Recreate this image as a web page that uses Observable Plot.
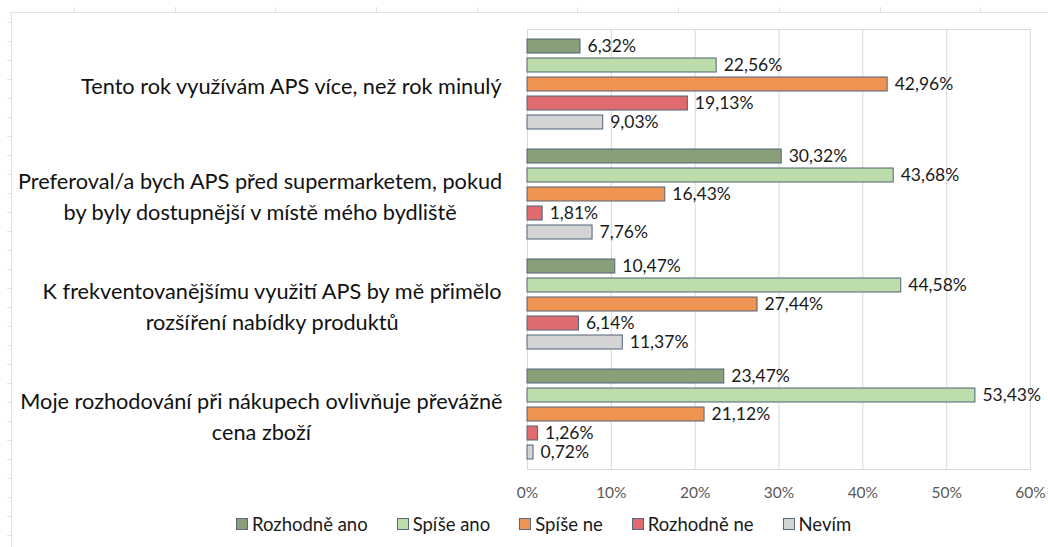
<!DOCTYPE html>
<html>
<head>
<meta charset="utf-8">
<script src="https://cdn.jsdelivr.net/npm/d3@7"></script>
<script src="https://cdn.jsdelivr.net/npm/@observablehq/plot@0.6"></script>
<style>
  html, body { margin: 0; padding: 0; background: #fff; }
  body { width: 1048px; height: 547px; position: relative; overflow: hidden; font-family: Lato, "Open Sans", sans-serif; }
  #rulerTop { position: absolute; left: 10px; top: 7px; width: 1038px; height: 5px; border-bottom: 1px solid #e2e2e2;
    background: repeating-linear-gradient(to right, transparent 0, transparent 64px, #e2e2e2 64px, #e2e2e2 65px, transparent 65px, transparent 100.7px); }
  #rulerLeft { position: absolute; left: 7px; top: 12px; width: 4px; height: 535px; border-right: 1px solid #e2e2e2;
    background: repeating-linear-gradient(to bottom, transparent 0, transparent 10px, #e2e2e2 10px, #e2e2e2 11px, transparent 11px, transparent 19px); }
  #chart { position: absolute; left: 0; top: 0; }
  #legend { position: absolute; left: 236px; top: 513px; display: flex; gap: 29px; font-size: 18.5px; color: #1a1a1a; line-height: 22px; }
  .item { display: flex; align-items: center; }
  .sw { width: 10px; height: 10px; border: 1px solid #5a6a7e; margin-right: 4px; }
</style>
</head>
<body>
<div id="rulerTop"></div>
<div id="rulerLeft"></div>
<div id="chart"></div>
<div id="legend"></div>
<script>
// ---- data ----
const questions = [
  "Tento rok využívám APS více, než rok minulý",
  "Preferoval/a bych APS před supermarketem, pokud\nby byly dostupnější v místě mého bydliště",
  "K frekventovanějšímu využití APS by mě přimělo\nrozšíření nabídky produktů",
  "Moje rozhodování při nákupech ovlivňuje převážně\ncena zboží"
];
const series = ["Rozhodně ano", "Spíše ano", "Spíše ne", "Rozhodně ne", "Nevím"];
const rozhodneAno = [6.32, 30.32, 10.47, 23.47];
const spiseAno = [22.56, 43.68, 44.58, 53.43];
const spiseNe = [42.96, 16.43, 27.44, 21.12];
const rozhodneNe = [19.13, 1.81, 6.14, 1.26];
const nevim = [9.03, 7.76, 11.37, 0.72];
const xTicks = [0, 10, 20, 30, 40, 50, 60];
const colors = ["#889f7a", "#bcdca9", "#ef9353", "#df6b6f", "#d4d4d4"];

const seriesValues = [rozhodneAno, spiseAno, spiseNe, rozhodneNe, nevim];
const data = [];
questions.forEach((q, qi) => {
  series.forEach((s, si) => data.push({question: q, series: s, value: seriesValues[si][qi]}));
});

// ---- category label measurement (center lines within block, block right-aligned) ----
const labelFont = 21.7;
const ctx = document.createElement("canvas").getContext("2d");
ctx.font = `${labelFont}px Lato`;
const labelGap = 25;
const labelMarks = questions.map(q => {
  const w = Math.max(...q.split("\n").map(l => ctx.measureText(l).width));
  return Plot.text([q], {
    fy: d => d, text: d => d, frameAnchor: "left", textAnchor: "middle",
    dx: -(labelGap + w / 2), fontSize: labelFont, lineHeight: 31 / labelFont, fill: "#111"
  });
});

const fmt = v => v.toFixed(2).replace(".", ",") + "%";

const chart = Plot.plot({
  width: 1048,
  height: 510,
  marginLeft: 527,
  marginRight: 18,
  marginTop: 28,
  marginBottom: 40,
  style: {fontFamily: "Lato, 'Open Sans', sans-serif", background: "transparent"},
  x: {domain: [0, 60], label: null},
  y: {domain: series, axis: null, paddingInner: 0.25, paddingOuter: 0.49},
  fy: {domain: questions, axis: null, padding: 0},
  color: {domain: series, range: colors},
  marks: [
    Plot.gridX(xTicks, {stroke: "#d9d9d9", strokeOpacity: 1}),
    Plot.frame({facet: "super", stroke: "#d9d9d9"}),
    Plot.barX(data, {x: "value", y: "series", fy: "question", fill: "series", stroke: "#53627a", strokeWidth: 1}),
    Plot.text(data, {x: "value", y: "series", fy: "question", text: d => fmt(d.value), textAnchor: "start", dx: 7, fontSize: 17.5, fill: "#1a1a1a"}),
    Plot.axisX({ticks: xTicks, tickFormat: d => d + "%", tickSize: 0, tickPadding: 17, fontSize: 15.5, fill: "#595959", label: null}),
    ...labelMarks
  ]
});
document.getElementById("chart").appendChild(chart);

// ---- legend ----
const legend = document.getElementById("legend");
series.forEach((s, i) => {
  const item = document.createElement("div");
  item.className = "item";
  const sw = document.createElement("span");
  sw.className = "sw";
  sw.style.background = colors[i];
  const t = document.createElement("span");
  t.textContent = s;
  item.appendChild(sw);
  item.appendChild(t);
  legend.appendChild(item);
});
</script>
</body>
</html>
